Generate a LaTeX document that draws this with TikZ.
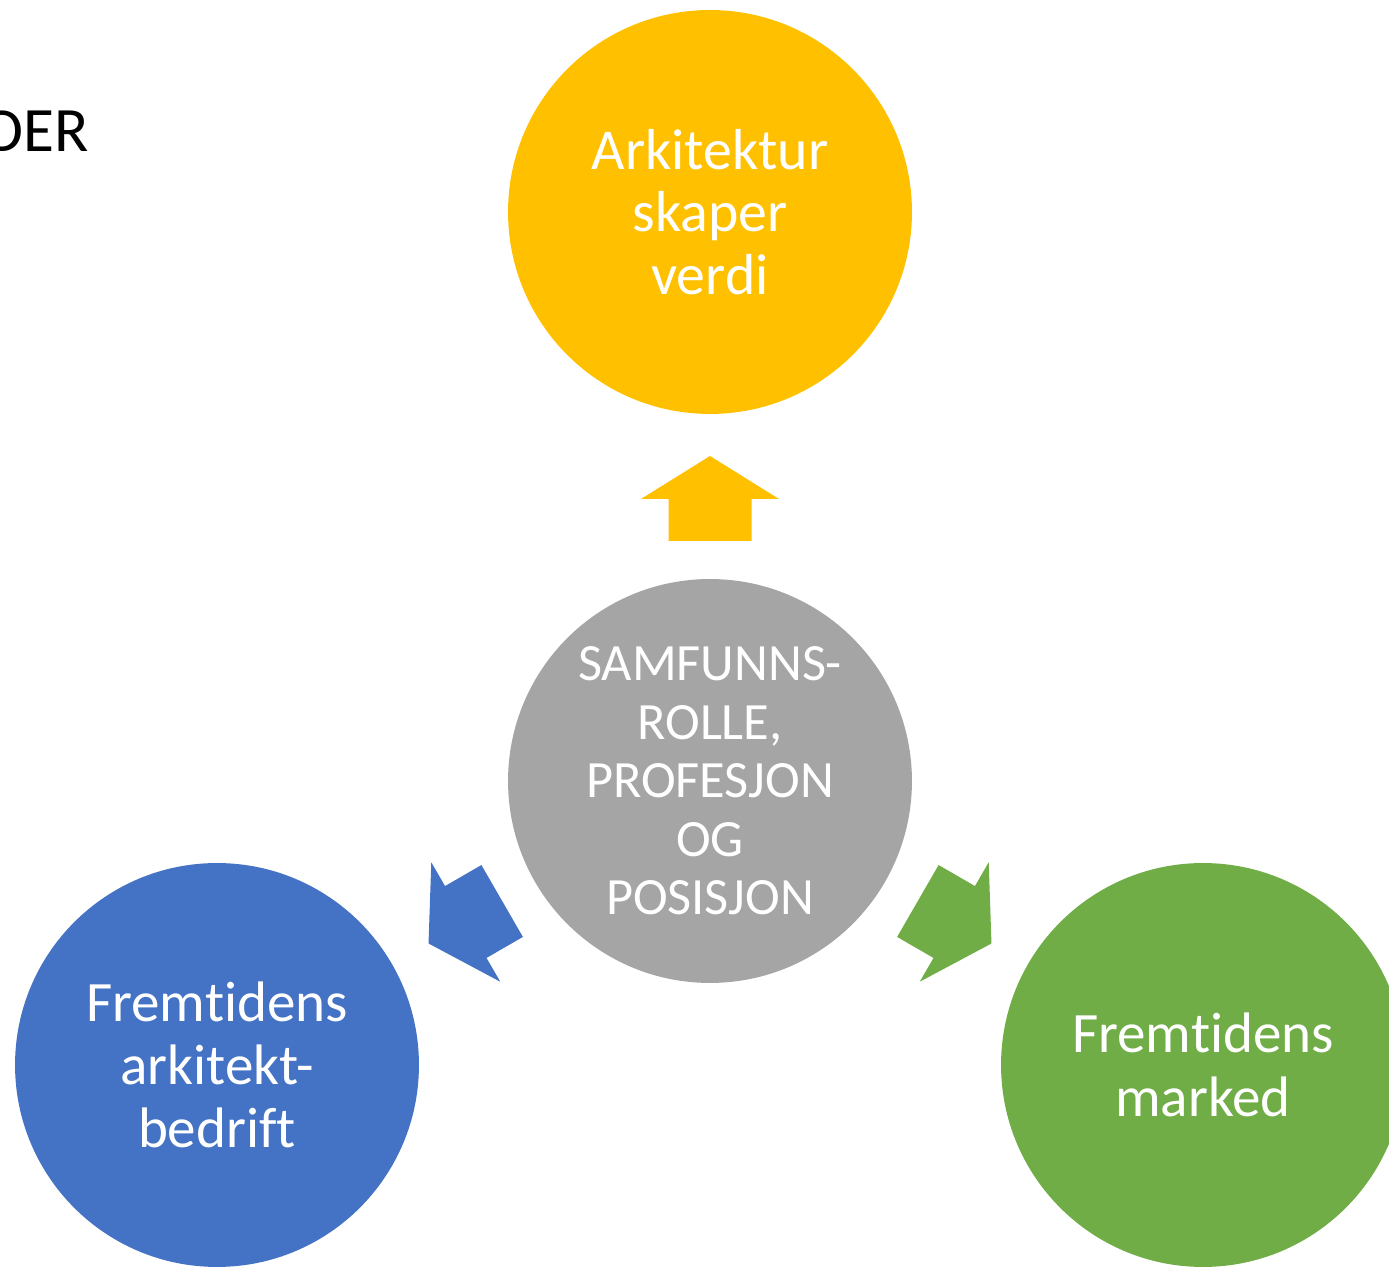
\documentclass[tikz,border=0pt]{standalone}
\usepackage{fontspec}
\setmainfont{Carlito}[Ligatures={NoCommon,NoContextual,NoRequired}]
\definecolor{cyellow}{HTML}{FFC000}
\definecolor{cgray}{HTML}{A5A5A5}
\definecolor{cblue}{HTML}{4472C4}
\definecolor{cgreen}{HTML}{70AD47}
\tikzset{
  bubble/.style={circle, minimum size=8.08cm, inner sep=0pt, text=white, align=center},
  bigtext/.style={font=\fontsize{32.9}{35.4}\selectfont},
  midtext/.style={font=\fontsize{29.8}{33.3}\selectfont},
  sidetext/.style={font=\fontsize{32.5}{36}\selectfont},
}
\newcommand{\nolig}{\kern0pt{}}
\newcommand{\blockarrowshape}{(240,41.5) -- (282,41.5) -- (282,69) -- (325,0) -- (282,-69) -- (282,-41.5) -- (240,-41.5) -- cycle}
\begin{document}
\begin{tikzpicture}[x=0.02cm,y=0.02cm]
\useasboundingbox (0,0) rectangle (1389,1267);
\clip (0,0) rectangle (1389,1267);
\node[bubble, fill=cyellow, bigtext] (top) at (710,1055) {Arkitektur\\skaper\\verdi};
\node[bubble, fill=cgray, midtext] (mid) at (710,486) {SAMFUNNS-\\ROLLE,\\PROFESJON\\OG\\POSISJON};
\node[bubble, fill=cblue, sidetext] (left) at (217,202) {Fremt\nolig idens\\arkitekt-\\bedrif\nolig t};
\node[bubble, fill=cgreen, sidetext] (right) at (1203,202) {Fremt\nolig idens\\marked};
\begin{scope}[shift={(mid.center)}, rotate=90]
  \fill[cyellow] \blockarrowshape;
\end{scope}
\begin{scope}[shift={(mid.center)}, rotate=210]
  \fill[cblue] \blockarrowshape;
\end{scope}
\begin{scope}[shift={(mid.center)}, rotate=330]
  \fill[cgreen] \blockarrowshape;
\end{scope}
\node[anchor=base east, inner sep=0pt, font=\fontsize{36}{40}\selectfont] (title) at (89,1115) {DER};
\end{tikzpicture}
\end{document}
